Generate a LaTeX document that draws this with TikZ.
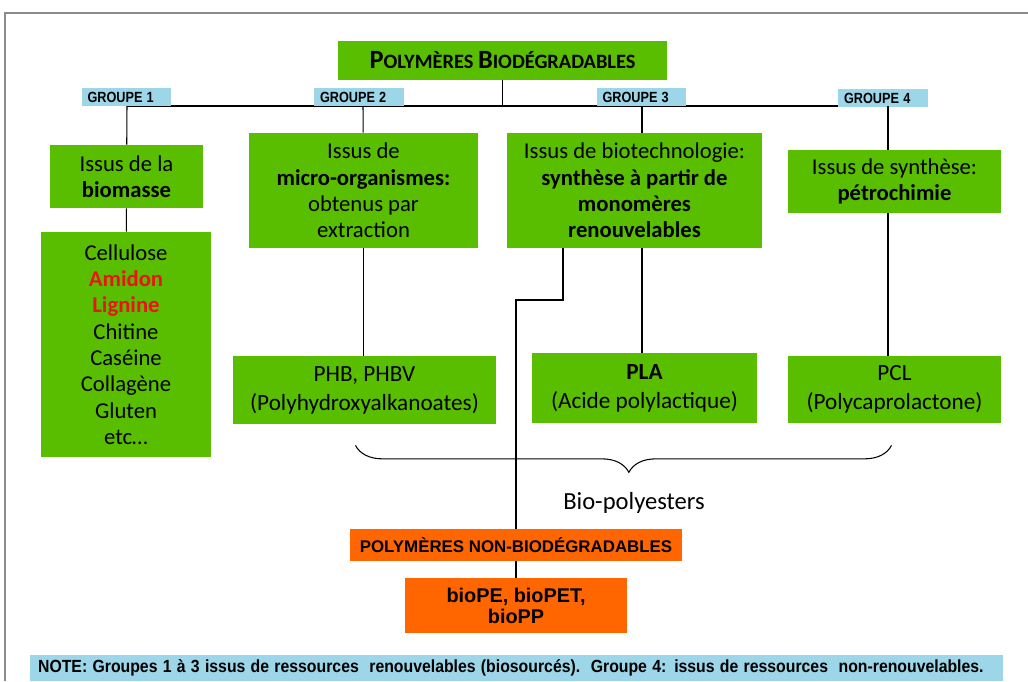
\documentclass[tikz,border=0pt]{standalone}
\usepackage{fontspec}
\setmainfont{Carlito}
\newfontfamily\arialfont{Liberation Sans}
\usetikzlibrary{positioning,calc,decorations.pathreplacing}
\definecolor{vertbox}{RGB}{90,190,0}
\definecolor{bleugroupe}{RGB}{156,214,232}
\definecolor{orangebox}{RGB}{255,102,0}
\definecolor{rouge}{RGB}{235,20,20}
\tikzstyle{boite}=[fill=vertbox,align=center,inner sep=0pt,font=\fontsize{12.9}{15}\selectfont]
\tikzstyle{groupe}=[fill=bleugroupe,align=left,inner xsep=0.12cm,inner ysep=0pt,text width=1.56cm,minimum height=0.36cm,font=\arialfont\bfseries\fontsize{8.4}{9}\selectfont]
\tikzstyle{nonbio}=[fill=orangebox,align=center,inner sep=0pt,font=\arialfont\bfseries]
\tikzstyle{lien}=[draw,line width=0.6pt]
\newcommand{\etroit}[1]{\scalebox{0.86}[1]{#1}}

\begin{document}
\begin{tikzpicture}[x=0.02cm,y=-0.02cm]
  \useasboundingbox (0,0) rectangle (1028,681);
  % cadre
  \draw[black!45,line width=1.2pt] (5,681) -- (5,13) -- (1028,13);

  \node[boite,minimum width=6.58cm,minimum height=0.78cm] (titre) at (502.5,60.5)
    {\bfseries{\fontsize{15}{15}\selectfont P}{\fontsize{11.6}{15}\selectfont OLYMÈRES }{\fontsize{15}{15}\selectfont B}{\fontsize{11.6}{15}\selectfont IODÉGRADABLES}};

  % ligne des groupes
  \coordinate (b1) at (127,106);
  \coordinate (b2) at (363,106);
  \coordinate (b3) at (642,106);
  \coordinate (b4) at (888,106);
  \draw[lien] (b1) -- (b4);
  \draw[lien] (titre) -- (titre |- b1);

  \node[groupe] (g1) at (126.5,97) {\etroit{GROUPE 1}};
  \node[groupe] (g2) at (359,97) {\etroit{GROUPE 2}};
  \node[groupe] (g3) at (641.5,97) {\etroit{GROUPE 3}};
  \node[groupe] (g4) at (883,98) {\etroit{GROUPE 4}};

  % groupe 1
  \node[boite,minimum width=3.06cm,minimum height=1.26cm] (bio) at (126.5,176.5)
    {Issus de la\\\textbf{biomasse}};
  \node[boite,minimum width=3.4cm,minimum height=4.5cm] (liste) at (126,344.5)
    {Cellulose\\\textcolor{rouge}{\textbf{Amidon}}\\\textcolor{rouge}{\textbf{Lignine}}\\Chitine\\Caséine\\Collagène\\Gluten\\etc…};
  \draw[lien] (b1) -- (bio);
  \draw[lien] (bio) -- (liste);

  % groupe 2
  \node[boite,minimum width=4.58cm,minimum height=2.3cm] (micro) at (363.5,190.5)
    {Issus de\\\textbf{micro-organismes:}\\obtenus par\\extraction};
  \node[boite,minimum width=5.26cm,minimum height=1.36cm,font=\fontsize{13.2}{16.5}\selectfont] (phb) at (364.5,390)
    {PHB, PHBV\\(Polyhydroxyalkanoates)};
  \draw[lien] (b2) -- (micro);
  \draw[lien] (micro) -- (micro |- phb.north);

  % groupe 3
  \node[boite,minimum width=5.1cm,minimum height=2.3cm] (biot) at (634.5,190.5)
    {Issus de biotechnologie:\\\textbf{synthèse à partir de}\\\textbf{monomères}\\\textbf{renouvelables}};
  \node[boite,minimum width=4.5cm,minimum height=1.4cm,font=\fontsize{13.2}{16.5}\selectfont] (pla) at (644.5,388)
    {\textbf{PLA}\\(Acide polylactique)};
  \draw[lien] (b3) -- (b3 |- biot.north);
  \draw[lien] (biot.south -| b3) -- (b3 |- pla.north);

  % groupe 4
  \node[boite,minimum width=4.26cm,minimum height=1.26cm] (synth) at (894.5,181.5)
    {Issus de synthèse:\\\textbf{pétrochimie}};
  \node[boite,minimum width=4.26cm,minimum height=1.34cm,font=\fontsize{13.2}{16.5}\selectfont] (pcl) at (894.5,389.5)
    {PCL\\(Polycaprolactone)};
  \draw[lien] (b4) -- (b4 |- synth.north);
  \draw[lien] (synth.south -| b4) -- (b4 |- pcl.north);

  % bio-polyesters
  \draw[lien,decorate,decoration={brace,mirror,amplitude=0.54cm,aspect=0.51}]
    ($(phb.south)+(-9,21)$) -- ($(pcl.south)+(-3,22)$);
  \node[font=\fontsize{14}{16}\selectfont] (biopoly) at (634,503) {Bio-polyesters};

  % non biodegradables
  \node[nonbio,minimum width=6.64cm,minimum height=0.64cm,font=\arialfont\bfseries\fontsize{9.6}{11}\selectfont] (nonbio) at (516,545)
    {POLYMÈRES NON-BIODÉGRADABLES};
  \node[nonbio,minimum width=4.44cm,minimum height=1.1cm,font=\arialfont\bfseries\fontsize{11.3}{12}\selectfont] (biope) at (516,605.5)
    {bioPE, bioPET,\\bioPP};
  \coordinate (coude) at (563,300);
  \draw[lien,line width=0.9pt] (biot.south -| coude) -- (coude) -| (nonbio);
  \draw[lien] (nonbio) -- (biope);

  % note
  \node[fill=bleugroupe,align=left,inner xsep=0.16cm,inner ysep=0pt,text width=19.14cm,minimum height=0.52cm,font=\arialfont\bfseries\fontsize{10}{11}\selectfont] (note) at (516.5,668)
    {\scalebox{0.9}[1]{NOTE: Groupes 1 à 3 issus de ressources\ \ renouvelables (biosourcés).\ \ Groupe 4: issus de ressources\ \ non-renouvelables.}};
\end{tikzpicture}
\end{document}
